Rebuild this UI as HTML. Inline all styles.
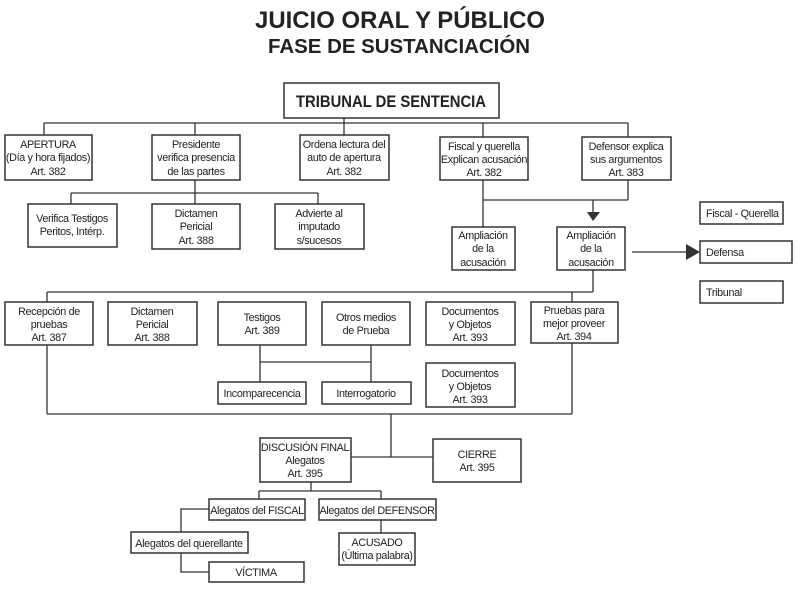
<!DOCTYPE html>
<html><head><meta charset="utf-8"><style>
html,body{margin:0;padding:0;background:#fff}
svg{display:block}
text{font-family:"Liberation Sans",Arial,sans-serif;fill:#222;font-size:10.8px;letter-spacing:-0.35px}
.t{text-anchor:middle}
rect{fill:#fff;stroke:#333;stroke-width:1.5}
line,polyline{stroke:#333;stroke-width:1.3;fill:none}
</style></head><body>
<svg width="800" height="592" viewBox="0 0 800 592" xmlns="http://www.w3.org/2000/svg">
<text x="400" y="28" class="t" style="font-size:24px;font-weight:bold;letter-spacing:0" textLength="290" lengthAdjust="spacingAndGlyphs">JUICIO ORAL Y PÚBLICO</text>
<text x="399" y="53" class="t" style="font-size:20px;font-weight:bold;letter-spacing:0" textLength="262" lengthAdjust="spacingAndGlyphs">FASE DE SUSTANCIACIÓN</text>

<line x1="44" y1="123" x2="628" y2="123"/>
<line x1="44" y1="123" x2="44" y2="135"/>
<line x1="195" y1="123" x2="195" y2="135"/>
<line x1="344" y1="118" x2="344" y2="135"/>
<line x1="483" y1="123" x2="483" y2="137"/>
<line x1="628" y1="123" x2="628" y2="137"/>
<line x1="195" y1="180" x2="195" y2="204"/>
<line x1="71" y1="193" x2="318" y2="193"/>
<line x1="71" y1="193" x2="71" y2="204"/>
<line x1="318" y1="193" x2="318" y2="204"/>
<line x1="483" y1="180" x2="483" y2="227"/>
<line x1="628" y1="180" x2="628" y2="200"/>
<line x1="483" y1="200" x2="628" y2="200"/>
<line x1="593" y1="200" x2="593" y2="213"/>
<polygon points="587,212 600,212 593,221" fill="#333"/>
<line x1="632" y1="252" x2="688" y2="252"/>
<polygon points="686,244 700,252 686,260" fill="#333"/>
<line x1="593" y1="270" x2="593" y2="292"/>
<line x1="47" y1="292" x2="593" y2="292"/>
<line x1="47" y1="292" x2="47" y2="302"/>
<line x1="572" y1="292" x2="572" y2="302"/>
<line x1="260" y1="345" x2="260" y2="382"/>
<line x1="371" y1="345" x2="371" y2="382"/>
<line x1="260" y1="362" x2="371" y2="362"/>
<line x1="47" y1="345" x2="47" y2="414"/>
<line x1="572" y1="343" x2="572" y2="414"/>
<line x1="47" y1="414" x2="572" y2="414"/>
<line x1="391" y1="414" x2="391" y2="457"/>
<line x1="351" y1="457" x2="433" y2="457"/>
<line x1="311" y1="482" x2="311" y2="491"/>
<line x1="259" y1="491" x2="381" y2="491"/>
<line x1="259" y1="491" x2="259" y2="499"/>
<line x1="381" y1="491" x2="381" y2="499"/>
<polyline points="209,509 181,509 181,532"/>
<polyline points="181,553 181,572 209,572"/>
<line x1="381" y1="520" x2="381" y2="533"/>

<rect x="284" y="83" width="215" height="35"/>
<text x="391" y="107" class="t" style="font-size:16.5px;font-weight:bold;letter-spacing:0" textLength="190" lengthAdjust="spacingAndGlyphs">TRIBUNAL DE SENTENCIA</text>

<rect x="5" y="135" width="87" height="45"/>
<text class="t" x="48" y="148">APERTURA</text><text class="t" x="48" y="161">(Día y hora fijados)</text><text class="t" x="48" y="175">Art. 382</text>
<rect x="152" y="135" width="88" height="45"/>
<text class="t" x="196" y="148">Presidente</text><text class="t" x="196" y="161">verifica presencia</text><text class="t" x="196" y="175">de las partes</text>
<rect x="300" y="135" width="89" height="45"/>
<text class="t" x="344" y="148">Ordena lectura del</text><text class="t" x="344" y="161">auto de apertura</text><text class="t" x="344" y="175">Art. 382</text>
<rect x="440" y="137" width="88" height="43"/>
<text class="t" x="484" y="150">Fiscal y querella</text><text class="t" x="484" y="163">Explican acusación</text><text class="t" x="484" y="176">Art. 382</text>
<rect x="582" y="137" width="89" height="43"/>
<text class="t" x="626" y="150">Defensor explica</text><text class="t" x="626" y="163">sus argumentos</text><text class="t" x="626" y="176">Art. 383</text>

<rect x="28" y="204" width="89" height="43"/>
<text class="t" x="72" y="222">Verifica Testigos</text><text class="t" x="72" y="235">Peritos, Intérp.</text>
<rect x="152" y="204" width="88" height="45"/>
<text class="t" x="196" y="217">Dictamen</text><text class="t" x="196" y="230">Pericial</text><text class="t" x="196" y="244">Art. 388</text>
<rect x="275" y="204" width="89" height="45"/>
<text class="t" x="319" y="217">Advierte al</text><text class="t" x="319" y="230">imputado</text><text class="t" x="319" y="244">s/sucesos</text>

<rect x="452" y="227" width="63" height="43"/>
<text class="t" x="483" y="239">Ampliación</text><text class="t" x="483" y="252">de la</text><text class="t" x="483" y="266">acusación</text>
<rect x="557" y="227" width="68" height="43"/>
<text class="t" x="591" y="239">Ampliación</text><text class="t" x="591" y="252">de la</text><text class="t" x="591" y="266">acusación</text>

<rect x="700" y="202" width="83" height="22"/><text x="706" y="217">Fiscal - Querella</text>
<rect x="700" y="241" width="92" height="22"/><text x="706" y="256">Defensa</text>
<rect x="700" y="281" width="83" height="22"/><text x="706" y="296">Tribunal</text>

<rect x="5" y="302" width="88" height="43"/>
<text class="t" x="49" y="315">Recepción de</text><text class="t" x="49" y="328">pruebas</text><text class="t" x="49" y="341">Art. 387</text>
<rect x="108" y="302" width="89" height="43"/>
<text class="t" x="152" y="315">Dictamen</text><text class="t" x="152" y="328">Pericial</text><text class="t" x="152" y="341">Art. 388</text>
<rect x="218" y="302" width="88" height="43"/>
<text class="t" x="262" y="321">Testigos</text><text class="t" x="262" y="334">Art. 389</text>
<rect x="322" y="302" width="88" height="43"/>
<text class="t" x="366" y="321">Otros medios</text><text class="t" x="366" y="334">de Prueba</text>
<rect x="426" y="302" width="89" height="43"/>
<text class="t" x="470" y="315">Documentos</text><text class="t" x="470" y="328">y Objetos</text><text class="t" x="470" y="341">Art. 393</text>
<rect x="531" y="302" width="87" height="41"/>
<text class="t" x="574" y="314">Pruebas para</text><text class="t" x="574" y="327">mejor proveer</text><text class="t" x="574" y="340">Art. 394</text>
<rect x="218" y="382" width="88" height="22"/><text class="t" x="262" y="397">Incomparecencia</text>
<rect x="322" y="382" width="89" height="22"/><text class="t" x="366" y="397">Interrogatorio</text>
<rect x="426" y="363" width="89" height="44"/>
<text class="t" x="470" y="377">Documentos</text><text class="t" x="470" y="390">y Objetos</text><text class="t" x="470" y="403">Art. 393</text>

<rect x="260" y="438" width="91" height="44"/>
<text class="t" x="305" y="451">DISCUSIÓN FINAL</text><text class="t" x="305" y="464">Alegatos</text><text class="t" x="305" y="477">Art. 395</text>
<rect x="433" y="439" width="88" height="43"/>
<text class="t" x="477" y="458">CIERRE</text><text class="t" x="477" y="471">Art. 395</text>

<rect x="209" y="499" width="96" height="21"/><text class="t" x="257" y="514">Alegatos del FISCAL</text>
<rect x="319" y="499" width="117" height="21"/><text class="t" x="377" y="514">Alegatos del DEFENSOR</text>
<rect x="131" y="532" width="117" height="21"/><text class="t" x="189" y="547">Alegatos del querellante</text>
<rect x="339" y="533" width="76" height="32"/>
<text class="t" x="377" y="546">ACUSADO</text><text class="t" x="377" y="559">(Última palabra)</text>
<rect x="209" y="562" width="95" height="20"/><text class="t" x="256" y="576">VÍCTIMA</text>
</svg>
</body></html>
